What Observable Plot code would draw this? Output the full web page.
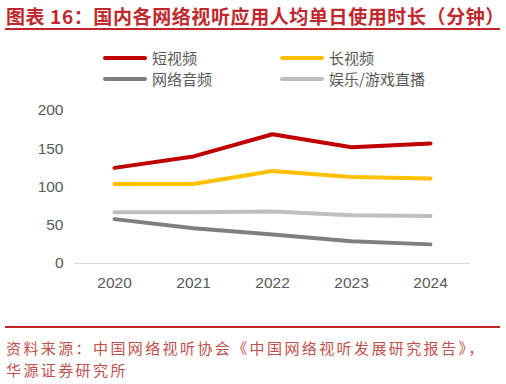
<!DOCTYPE html>
<html><head><meta charset="utf-8">
<script src="https://cdn.jsdelivr.net/npm/d3@7"></script>
<script src="https://cdn.jsdelivr.net/npm/@observablehq/plot@0.6"></script>
<style>
body{margin:0;width:506px;height:384px;background:#fff;position:relative;overflow:hidden;font-family:"Noto Sans CJK SC","Noto Sans",sans-serif;}
#title{position:absolute;left:6px;top:2px;font-size:19px;font-weight:bold;color:#c0282e;white-space:nowrap;letter-spacing:0.6px;}
#tline{position:absolute;left:5px;top:28px;width:495px;height:2px;background:#c0282e;}
#legend{position:absolute;left:0;top:0;}
.lg{position:absolute;font-size:15px;color:#595959;white-space:nowrap;display:flex;align-items:center;}
.lg span.sw{display:inline-block;width:44px;height:4px;border-radius:2px;margin-right:5px;}
#chart{position:absolute;left:0;top:95px;}
#fline{position:absolute;left:5px;top:326px;width:495px;height:2px;background:#c0282e;}
#foot{position:absolute;left:6px;top:337px;font-size:15px;line-height:22px;color:#c0504d;letter-spacing:2.4px;white-space:nowrap;}
</style></head><body>
<div id="title">图表 16：国内各网络视听应用人均单日使用时长（分钟）</div>
<div id="tline"></div>
<div id="legend"></div>
<div id="chart"></div>
<div id="fline"></div>
<div id="foot">资料来源：中国网络视听协会《中国网络视听发展研究报告》，<br>华源证券研究所</div>
<script>
const years = ["2020","2021","2022","2023","2024"];
const seriesNames = ["短视频","长视频","网络音频","娱乐/游戏直播"];
const shortVideo = [125, 140, 169, 152, 157];
const longVideo = [104, 104, 121, 113, 111];
const audio = [58, 46, 38, 29, 25];
const live = [67, 67, 68, 63, 62];
const colors = ["#c00000","#ffc000","#7f7f7f","#bfbfbf"];
const yTicks = [0, 50, 100, 150, 200];

const allSeries = [shortVideo, longVideo, audio, live];
const data = [];
allSeries.forEach((vals, i) => vals.forEach((v, j) => data.push({series: seriesNames[i], year: years[j], value: v})));

// legend
const legendPos = [[103,58],[280,58],[103,79],[280,79]];
const lg = document.getElementById("legend");
seriesNames.forEach((n,i)=>{
  const d = document.createElement("div");
  d.className="lg";
  d.style.left = legendPos[i][0]+"px";
  d.style.top = (legendPos[i][1]-11)+"px";
  d.innerHTML = `<span class="sw" style="background:${colors[i]}"></span>${n}`;
  lg.appendChild(d);
});

const chart = Plot.plot({
  width: 506,
  height: 205,
  marginLeft: 74,
  marginRight: 36,
  marginTop: 15,
  marginBottom: 37,
  style: {fontFamily: "Arial, 'Liberation Sans', sans-serif", fontSize: "15.5px", color: "#595959", background: "transparent"},
  x: {type: "point", domain: years, padding: 0.5, label: null, tickSize: 0, tickPadding: 13},
  y: {domain: [0, 200], ticks: yTicks, label: null, tickSize: 0, tickPadding: 11},
  color: {domain: seriesNames, range: colors},
  marks: [
    Plot.ruleY([0], {stroke: "#d9d9d9", strokeWidth: 1}),
    Plot.line(data, {x: "year", y: "value", z: "series", stroke: "series", strokeWidth: 4, strokeLinecap: "round", strokeLinejoin: "round"})
  ]
});
document.getElementById("chart").appendChild(chart);
</script>
</body></html>
